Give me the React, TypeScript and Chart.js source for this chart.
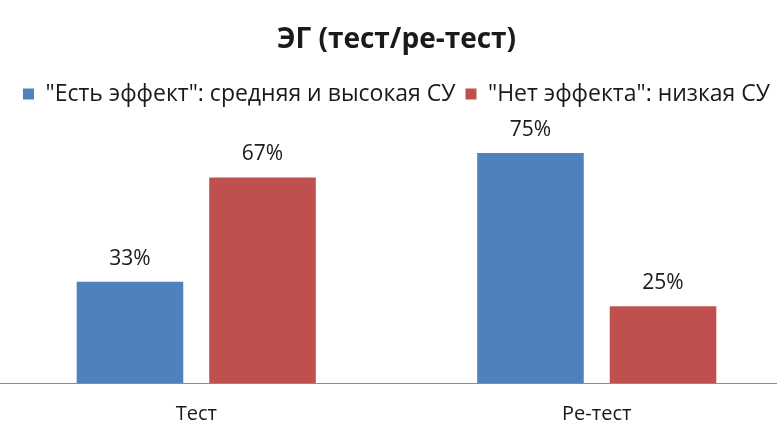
import React, { useEffect, useRef } from "react";
import { Chart, registerables } from "chart.js";

Chart.register(...registerables);

const chartTitle = "ЭГ (тест/ре-тест)";
const categories = ["Тест", "Ре-тест"];
const seriesNames = ['"Есть эффект": средняя и высокая СУ', '"Нет эффекта": низкая СУ'];
const effectValues = [33, 75];
const noEffectValues = [67, 25];
const seriesColors = ["#4F81BD", "#C0504D"];
const FONT = "'Open Sans', 'Noto Sans', sans-serif";
const TEXT = "#1a1a1a";

const valueLabels = {
  id: "valueLabels",
  afterDatasetsDraw(chart: any) {
    const ctx = chart.ctx;
    ctx.save();
    ctx.font = `21px ${FONT}`;
    ctx.fillStyle = TEXT;
    ctx.textAlign = "center";
    ctx.textBaseline = "middle";
    chart.data.datasets.forEach((ds: any, i: number) => {
      const meta = chart.getDatasetMeta(i);
      meta.data.forEach((bar: any, j: number) => {
        ctx.fillText(`${ds.data[j]}%`, bar.x, bar.y - 23);
      });
    });
    ctx.restore();
  },
};

const legendGap = {
  id: "legendGap",
  beforeInit(chart: any) {
    const legend = chart.legend;
    if (!legend) return;
    const orig = legend.fit;
    legend.fit = function () {
      orig.call(this);
      this.height += 22;
    };
  },
};

export default function App() {
  const ref = useRef<HTMLCanvasElement | null>(null);
  useEffect(() => {
    if (!ref.current) return;
    const chart = new Chart(ref.current, {
      type: "bar",
      data: {
        labels: categories,
        datasets: [
          { label: seriesNames[0], data: effectValues, backgroundColor: seriesColors[0] },
          { label: seriesNames[1], data: noEffectValues, backgroundColor: seriesColors[1] },
        ],
      },
      options: {
        animation: false,
        responsive: false,
        maintainAspectRatio: false,
        layout: { padding: { top: 0, left: 0, right: 0, bottom: -19 } },
        datasets: {
          bar: { categoryPercentage: 0.662, barPercentage: 0.804 },
        },
        plugins: {
          title: {
            display: true,
            text: chartTitle,
            color: TEXT,
            font: { family: FONT, size: 28, weight: "bold", lineHeight: 1.2 },
            padding: { top: 23, bottom: 16 },
          },
          legend: {
            position: "top",
            labels: {
              color: TEXT,
              font: { family: FONT, size: 23 },
              boxWidth: 11,
              boxHeight: 11,
              padding: 10,
            },
          },
          tooltip: { enabled: false },
        },
        scales: {
          x: {
            grid: { display: false, drawTicks: false },
            border: { display: true, color: "#8c8c8c", width: 1 },
            ticks: { color: TEXT, font: { family: FONT, size: 20, lineHeight: 1.2 }, padding: 19 },
          },
          y: {
            display: false,
            min: 0,
            max: 80,
          },
        },
      },
      plugins: [legendGap, valueLabels],
    });
    return () => chart.destroy();
  }, []);
  return (
    <div style={{ position: "fixed", left: 0, top: 0, width: 777, height: 426, overflow: "hidden", background: "#fff" }}>
      <canvas
        ref={ref}
        width={801}
        height={426}
        style={{ position: "absolute", left: -4, top: 0, width: 801, height: 426, display: "block" }}
      />
    </div>
  );
}
